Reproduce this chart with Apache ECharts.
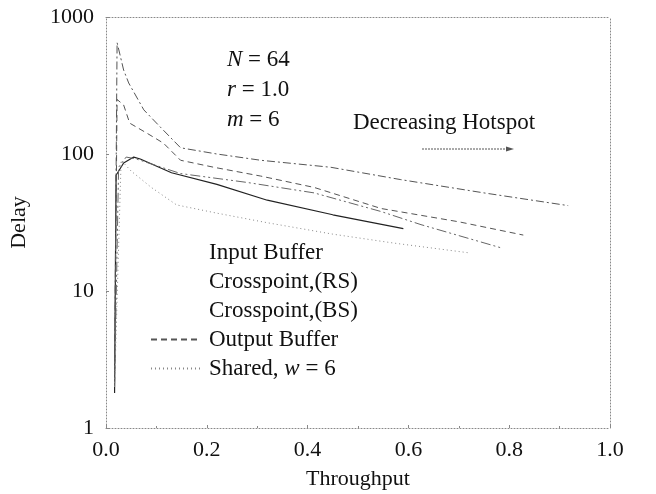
<!DOCTYPE html>
<html>
<head>
<meta charset="utf-8">
<script src="https://cdn.jsdelivr.net/npm/echarts@6/dist/echarts.min.js"></script>
<style>
html,body{margin:0;padding:0;background:#fff;}
#chart{width:656px;height:494px;}
</style>
</head>
<body>
<div id="chart"></div>
<script>
// ---- data ----
var seriesNames = ['Input Buffer', 'Crosspoint,(RS)', 'Crosspoint,(BS)', 'Output Buffer', 'Shared, w = 6'];

var inputX = [0.017, 0.02, 0.035, 0.055, 0.068, 0.13, 0.22, 0.32, 0.45, 0.59];
var inputY = [1.8, 70, 86, 95, 92, 73, 60, 46, 36, 28.5];

var rsX = [0.017, 0.022, 0.035, 0.045, 0.075, 0.108, 0.148, 0.22, 0.307, 0.446, 0.585, 0.75, 0.917];
var rsY = [2.5, 650, 410, 330, 210, 157, 111, 100, 90, 80, 65, 52, 42];

var bsX = [0.017, 0.025, 0.04, 0.06, 0.148, 0.28, 0.413, 0.546, 0.625, 0.785];
var bsY = [2, 80, 95, 92, 72, 62, 52, 38, 30.5, 20.6];

var outX = [0.017, 0.022, 0.035, 0.047, 0.081, 0.114, 0.148, 0.214, 0.307, 0.413, 0.546, 0.70, 0.828];
var outY = [2.2, 250, 228, 168, 142, 120, 90, 80, 69, 57, 40, 32, 25.6];

var sharedX = [0.017, 0.03, 0.05, 0.09, 0.14, 0.22, 0.32, 0.45, 0.57, 0.72];
var sharedY = [2, 90, 75, 57, 42.5, 37, 31.5, 26, 22.4, 19];

var xTicks = [0, 0.2, 0.4, 0.6, 0.8, 1.0];
var yTicks = [1, 10, 100, 1000];

function pairs(xs, ys) { return xs.map(function (x, i) { return [x, ys[i]]; }); }

var FONT = '"Liberation Serif", "DejaVu Serif", serif';
var FS = 22;   // tick labels and axis names
var TS = 23;   // annotations and legend

var styles = [
  { color: '#222', width: 1.2, type: 'solid' },
  { color: '#555', width: 1, type: [8, 3, 2, 3] },
  { color: '#666', width: 1, type: [10, 3, 2, 3, 2, 3] },
  { color: '#555', width: 1, type: [6, 4] },
  { color: '#888', width: 1, type: [1, 3] }
];
var dataSets = [pairs(inputX, inputY), pairs(rsX, rsY), pairs(bsX, bsY), pairs(outX, outY), pairs(sharedX, sharedY)];

var series = seriesNames.map(function (n, i) {
  return {
    name: n, type: 'line', symbol: 'none', data: dataSets[i],
    lineStyle: styles[i], itemStyle: { color: styles[i].color },
    emphasis: { disabled: true }, animation: false
  };
});

var chart = echarts.init(document.getElementById('chart'), null, { renderer: 'canvas' });
var axisLineStyle = { color: '#888', width: 1, type: [1, 2] };
var italicRich = { i: { fontStyle: 'italic', fontFamily: FONT, fontSize: TS, fill: '#111' } };

chart.setOption({
  backgroundColor: '#fff',
  animation: false,
  grid: { left: 106, right: 46, top: 17, bottom: 66, outerBoundsMode: 'none', containLabel: false },
  legend: {
    orient: 'vertical', left: 145, top: 236,
    itemWidth: 50, itemHeight: 14, itemGap: 6,
    selectedMode: false,
    data: seriesNames.map(function (n, i) {
      if (i < 3) return { name: n, icon: 'none', lineStyle: { opacity: 0 }, itemStyle: { opacity: 0 } };
      return { name: n, itemStyle: { opacity: 0 } };
    }),
    formatter: function (n) {
      if (n === 'Shared, w = 6') return '{n|Shared, }{i|w}{n| = 6}';
      return '{n|' + n + '}';
    },
    textStyle: {
      fontFamily: FONT, fontSize: TS, color: '#111', padding: [0, 0, 0, 3], lineHeight: 22,
      rich: {
        n: { fontFamily: FONT, fontSize: TS, color: '#111', lineHeight: 22 },
        i: { fontFamily: FONT, fontSize: TS, color: '#111', fontStyle: 'italic', lineHeight: 22 }
      }
    }
  },
  xAxis: [{
    type: 'value', min: 0, max: 1, interval: 0.2,
    name: 'Throughput', nameLocation: 'middle', nameGap: 40,
    nameTextStyle: { fontFamily: FONT, fontSize: FS, color: '#111' },
    axisLine: { show: true, lineStyle: axisLineStyle },
    axisTick: { show: true, inside: true, length: 3, lineStyle: { color: '#888' } },
    minorTick: { show: true, splitNumber: 2, length: 2, lineStyle: { color: '#888' } },
    splitLine: { show: false },
    axisLabel: {
      fontFamily: FONT, fontSize: FS, color: '#111', margin: 11,
      customValues: xTicks,
      formatter: function (v) { return v.toFixed(1); }
    }
  }, {
    type: 'value', min: 0, max: 1, position: 'top',
    axisLine: { show: true, onZero: false, lineStyle: axisLineStyle },
    axisTick: { show: false }, axisLabel: { show: false }, splitLine: { show: false }
  }],
  yAxis: [{
    type: 'log', logBase: 10, min: 1, max: 1000,
    name: 'Delay', nameLocation: 'middle', nameGap: 76,
    nameTextStyle: { fontFamily: FONT, fontSize: FS, color: '#111' },
    axisLine: { show: true, lineStyle: axisLineStyle },
    axisTick: { show: true, inside: true, length: 3, lineStyle: { color: '#888' } },
    splitLine: { show: false },
    axisLabel: {
      fontFamily: FONT, fontSize: FS, color: '#111', margin: 12,
      customValues: yTicks,
      formatter: function (v) { return String(Math.round(v)); }
    }
  }, {
    type: 'log', logBase: 10, min: 1, max: 1000, position: 'right',
    axisLine: { show: true, onZero: false, lineStyle: axisLineStyle },
    axisTick: { show: false }, axisLabel: { show: false }, splitLine: { show: false }
  }],
  series: series,
  graphic: [
    { type: 'text', left: 227, top: 48, style: { text: '{i|N} = 64', font: TS + 'px ' + FONT, fill: '#111', rich: italicRich } },
    { type: 'text', left: 227, top: 78, style: { text: '{i|r} = 1.0', font: TS + 'px ' + FONT, fill: '#111', rich: italicRich } },
    { type: 'text', left: 227, top: 108, style: { text: '{i|m} = 6', font: TS + 'px ' + FONT, fill: '#111', rich: italicRich } },
    { type: 'text', left: 353, top: 111, style: { text: 'Decreasing Hotspot', font: TS + 'px ' + FONT, fill: '#111' } },
    { type: 'line', shape: { x1: 422, y1: 149, x2: 510, y2: 149 }, style: { stroke: '#555', lineWidth: 1, lineDash: [2, 1] } },
    { type: 'polygon', shape: { points: [[514, 149], [506, 146.5], [506, 151.5]] }, style: { fill: '#555' } }
  ]
});
</script>
</body>
</html>
